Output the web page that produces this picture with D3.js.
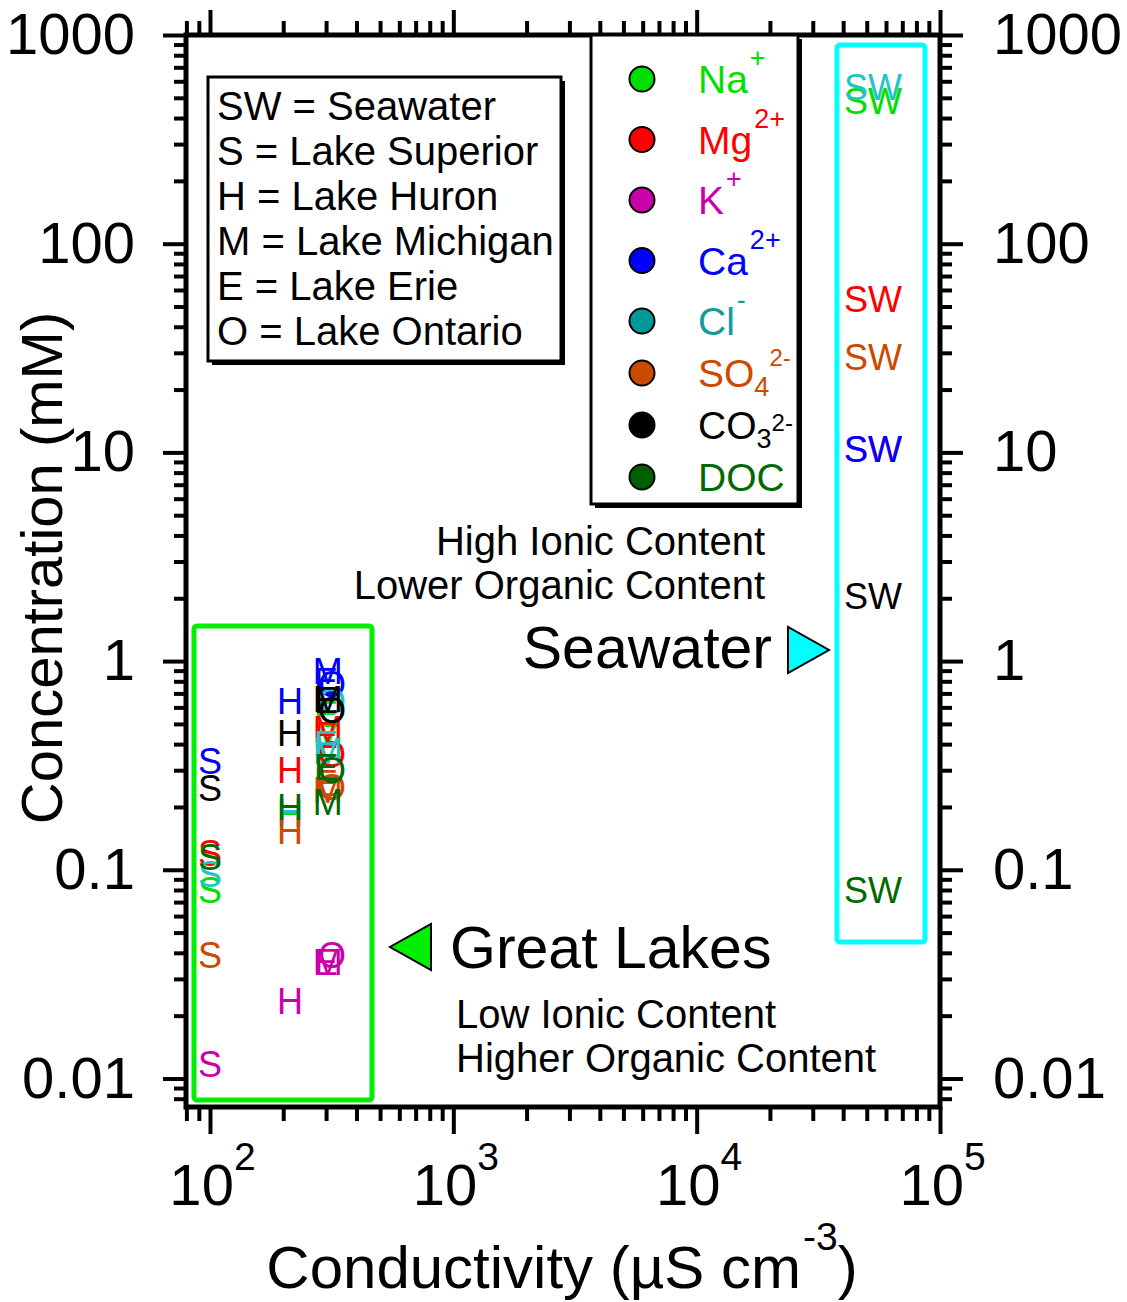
<!DOCTYPE html>
<html>
<head>
<meta charset="utf-8">
<script src="https://cdn.jsdelivr.net/npm/d3@7"></script>
<style>
  html, body { margin: 0; padding: 0; background: #fff; }
  svg { display: block; font-family: "Liberation Sans", Arial, sans-serif; }
</style>
</head>
<body>
<svg id="chart" width="1127" height="1302"></svg>
<script>
// Water bodies: label letter and specific conductivity (µS cm-3)
const sites = ["SW", "S", "H", "M", "E", "O"];
const conductivity = [53000, 100, 213, 305, 300, 317];

// Ion / DOC concentrations (mM), one value per site in the order above
const na   = [484,  0.080,  0.185, 0.45,  0.56,  0.58];
const mg   = [54.4, 0.120,  0.30,  0.47,  0.44,  0.36];
const k    = [10.4, 0.0117, 0.0235, 0.036, 0.036, 0.039];
const ca   = [10.4, 0.332,  0.64,  0.90,  0.80,  0.78];
const cl   = [565,  0.095,  0.19,  0.37,  0.40,  0.64];
const so4  = [28.7, 0.039,  0.153, 0.24,  0.26,  0.25];
const co3  = [2.05, 0.246,  0.45,  0.66,  0.65,  0.58];
const doc  = [0.080, 0.115, 0.20,  0.21,  0.31,  0.30];

// Species names for the legend (base, subscript, superscript)
const speciesBase = ["Na", "Mg", "K", "Ca", "Cl", "SO", "CO", "DOC"];
const speciesSub  = ["", "", "", "", "", "4", "3", ""];
const speciesSup  = ["+", "2+", "+", "2+", "-", "2-", "2-", ""];
const speciesValues = [na, mg, k, ca, cl, so4, co3, doc];

// Site key text
const siteKey = ["SW = Seawater", "S = Lake Superior", "H = Lake Huron",
                 "M = Lake Michigan", "E = Lake Erie", "O = Lake Ontario"];

// Axis tick labels
const yTickLabels = ["0.01", "0.1", "1", "10", "100", "1000"];
const xTickExponents = ["2", "3", "4", "5"];

// ---- styling ----
const markColor   = ["#00e000", "#ff0000", "#cc00aa", "#0000ff", "#22c4c8", "#cc4a00", "#000000", "#006a00"];
const legendColor = ["#00e000", "#ff0000", "#cc00aa", "#0000ff", "#119c9c", "#cc4a00", "#000000", "#006a00"];
const dotColor    = ["#00e000", "#ff0000", "#cc00aa", "#0000ff", "#009999", "#cc4a00", "#000000", "#006000"];

const svg = d3.select("#chart");

const x = d3.scaleLog().domain([79.7, 1e5]).range([186, 940]);
const y = d3.scaleLog().domain([0.0073, 1000]).range([1107, 35]);

// ---- tick values ----
function logTicks(lo, hi) {
  const major = [], minor = [];
  for (let e = Math.floor(Math.log10(lo)); e <= Math.ceil(Math.log10(hi)); e++) {
    for (let m = 1; m <= 9; m++) {
      const v = m * Math.pow(10, e);
      if (v < lo * 0.999 || v > hi * 1.001) continue;
      (m === 1 ? major : minor).push(v);
    }
  }
  return { major, minor };
}
const yt = logTicks(0.0073, 1000);
const xt = logTicks(79.7, 1e5);

const axesG = svg.append("g");

function styleAxis(g) {
  g.select(".domain").remove();
  g.selectAll(".tick line").attr("stroke", "#000").attr("stroke-width", 4);
}

// left axis
axesG.append("g").attr("transform", "translate(186,0)")
  .call(d3.axisLeft(y).tickValues(yt.minor).tickSize(12).tickFormat(""))
  .call(styleAxis);
axesG.append("g").attr("transform", "translate(186,0)")
  .call(d3.axisLeft(y).tickValues(yt.major).tickSize(23).tickPadding(28)
        .tickFormat((d, i) => yTickLabels[i]))
  .call(styleAxis)
  .call(g => g.selectAll("text").attr("font-size", 58).attr("fill", "#000")
        .attr("font-family", "Liberation Sans, Arial, sans-serif"));

// right axis
axesG.append("g").attr("transform", "translate(940,0)")
  .call(d3.axisRight(y).tickValues(yt.minor).tickSize(12).tickFormat(""))
  .call(styleAxis);
axesG.append("g").attr("transform", "translate(940,0)")
  .call(d3.axisRight(y).tickValues(yt.major).tickSize(23).tickPadding(30)
        .tickFormat((d, i) => yTickLabels[i]))
  .call(styleAxis)
  .call(g => g.selectAll("text").attr("font-size", 58).attr("fill", "#000")
        .attr("font-family", "Liberation Sans, Arial, sans-serif"));

// bottom axis
axesG.append("g").attr("transform", "translate(0,1107)")
  .call(d3.axisBottom(x).tickValues(xt.minor).tickSize(14).tickFormat(""))
  .call(styleAxis);
const xMajor = axesG.append("g").attr("transform", "translate(0,1107)")
  .call(d3.axisBottom(x).tickValues(xt.major).tickSize(27).tickFormat(""))
  .call(styleAxis);
xMajor.selectAll(".tick").each(function (d, i) {
  const t = d3.select(this).append("text")
    .attr("y", 98).attr("text-anchor", "middle").attr("fill", "#000")
    .attr("font-size", 58).attr("dx", 2);
  t.append("tspan").text("10");
  t.append("tspan").attr("font-size", 39).attr("dy", -35).text(xTickExponents[i]);
});

// top axis
axesG.append("g").attr("transform", "translate(0,35)")
  .call(d3.axisTop(x).tickValues(xt.minor).tickSize(14).tickFormat(""))
  .call(styleAxis);
axesG.append("g").attr("transform", "translate(0,35)")
  .call(d3.axisTop(x).tickValues(xt.major).tickSize(25).tickFormat(""))
  .call(styleAxis);

// frame
svg.append("rect")
  .attr("x", x.range()[0]).attr("y", y.range()[1])
  .attr("width", x.range()[1] - x.range()[0])
  .attr("height", y.range()[0] - y.range()[1])
  .attr("fill", "none").attr("stroke", "#000").attr("stroke-width", 5);

// axis titles
svg.append("text")
  .attr("transform", "translate(62,568) rotate(-90)")
  .attr("text-anchor", "middle").attr("font-size", 58)
  .text("Concentration (mM)");

const xTitle = svg.append("text")
  .attr("x", 562).attr("y", 1288).attr("text-anchor", "middle").attr("font-size", 60);
xTitle.append("tspan").text("Conductivity (µS cm");
xTitle.append("tspan").attr("font-size", 39).attr("dy", -38).attr("dx", 2).text("-3");
xTitle.append("tspan").attr("dy", 38).text(")");

// highlight boxes around the two groups
svg.append("rect")
  .attr("x", 194).attr("y", 626).attr("width", 178).attr("height", 474).attr("rx", 3)
  .attr("fill", "none").attr("stroke", "#00ee00").attr("stroke-width", 5);
svg.append("rect")
  .attr("x", 837).attr("y", 45).attr("width", 88).attr("height", 897).attr("rx", 3)
  .attr("fill", "none").attr("stroke", "#00ffff").attr("stroke-width", 5);

// boxed panel with drop shadow
function shadowBox(x0, y0, w, h) {
  svg.append("rect").attr("x", x0 + 4).attr("y", y0 + 4).attr("width", w).attr("height", h)
    .attr("fill", "#000");
  svg.append("rect").attr("x", x0).attr("y", y0).attr("width", w).attr("height", h)
    .attr("fill", "#fff").attr("stroke", "#000").attr("stroke-width", 3);
}

// site key
shadowBox(208, 77, 353, 284);
svg.append("g").selectAll("text").data(siteKey).join("text")
  .attr("x", 217).attr("y", (d, i) => 120 + i * 45)
  .attr("font-size", 40).text(d => d);

// species legend
shadowBox(591, 35, 207, 469);
const legendY = i => (i < 5 ? 79 + i * 60.5 : 321 + (i - 4) * 52);
const leg = svg.append("g");
speciesBase.forEach((b, i) => {
  const cy = legendY(i);
  leg.append("circle").attr("cx", 642).attr("cy", cy).attr("r", 12.5)
    .attr("fill", dotColor[i]).attr("stroke", "#000").attr("stroke-width", 2);
  const t = leg.append("text").attr("x", 698).attr("y", cy + 14)
    .attr("font-size", 39).attr("fill", legendColor[i]);
  t.append("tspan").text(b);
  if (speciesSub[i]) {
    t.append("tspan").attr("font-size", 27).attr("dy", 9).text(speciesSub[i]);
    if (speciesSup[i]) {
      const up = i === 6 ? -17 : -30;
      t.append("tspan").attr("font-size", 24).attr("dy", up).text(speciesSup[i]);
    }
  } else if (speciesSup[i]) {
    t.append("tspan").attr("font-size", 27).attr("dy", -26).attr("dx", 2).text(speciesSup[i]);
  }
});

// annotations
const ann = svg.append("g").attr("font-size", 40);
ann.append("text").attr("x", 765).attr("y", 555).attr("text-anchor", "end").text("High Ionic Content");
ann.append("text").attr("x", 765).attr("y", 599).attr("text-anchor", "end").text("Lower Organic Content");
ann.append("text").attr("x", 456).attr("y", 1028).text("Low Ionic Content");
ann.append("text").attr("x", 456).attr("y", 1072).text("Higher Organic Content");

svg.append("text").attr("x", 772).attr("y", 668).attr("text-anchor", "end")
  .attr("font-size", 59).text("Seawater");
svg.append("text").attr("x", 450).attr("y", 968)
  .attr("font-size", 59).text("Great Lakes");

svg.append("path").attr("d", "M788,627 L788,673 L829,650 Z")
  .attr("fill", "#00ffff").attr("stroke", "#000").attr("stroke-width", 2);
svg.append("path").attr("d", "M431,924 L431,970 L390,947 Z")
  .attr("fill", "#00ee00").attr("stroke", "#000").attr("stroke-width", 2);

// data labels: each site's letter placed at (conductivity, concentration)
const marks = svg.append("g").attr("font-size", 36).attr("text-anchor", "middle");
speciesValues.forEach((vals, si) => {
  marks.append("g").attr("fill", markColor[si])
    .selectAll("text").data(sites).join("text")
    .attr("x", (d, i) => x(conductivity[i]))
    .attr("y", (d, i) => y(vals[i]))
    .attr("dy", "0.36em")
    .text(d => d);
});
</script>
</body>
</html>
